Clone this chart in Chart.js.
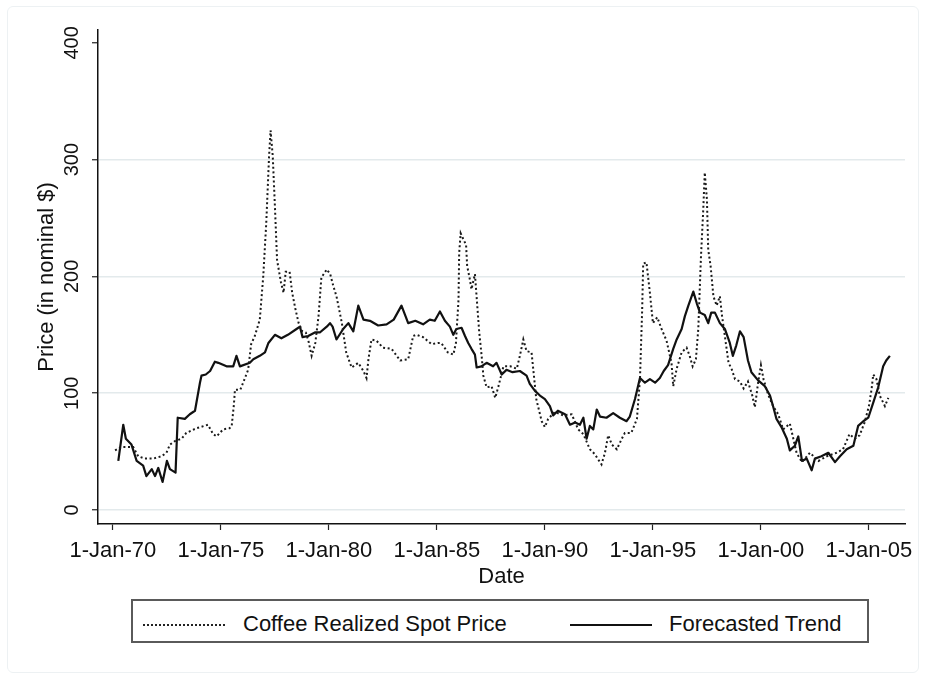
<!DOCTYPE html>
<html>
<head>
<meta charset="utf-8">
<script src="https://cdn.jsdelivr.net/npm/chart.js@4.4.1/dist/chart.umd.min.js"></script>
<style>
    body { margin: 0; background: #fff; }
    #wrap { position: relative; width: 927px; height: 675px; }
    #frame {
        position: absolute; left: 7px; top: 6px; width: 910px; height: 665px;
        border: 1px solid #edf1f3; border-radius: 6px; pointer-events: none;
    }
    #legend {
        position: absolute; left: 131px; top: 599px; width: 738px; height: 44px;
        box-sizing: border-box; border: 2px solid #5a5a5a; background: #fff;
        font-family: "Liberation Sans", Arial, sans-serif; font-size: 22px; color: #111;
    }
    #legend .sample { position: absolute; top: 23px; width: 82px; height: 0; }
    #legend .txt { position: absolute; top: 10px; line-height: 26px; white-space: nowrap; }
</style>
</head>
<body>
<div id="wrap">
    <canvas id="coffeeChart"></canvas>
    <div id="frame"></div>
    <div id="legend">
        <span class="sample" style="left:10px; border-top: 2px dotted #222;"></span>
        <span class="txt" style="left:110px;">Coffee Realized Spot Price</span>
        <span class="sample" style="left:437px; border-top: 2px solid #111;"></span>
        <span class="txt" style="left:536px;">Forecasted Trend</span>
    </div>
</div>
<script>
const xTickYears = [1970, 1975, 1980, 1985, 1990, 1995, 2000, 2005];
const xTickLabels = ['1-Jan-70', '1-Jan-75', '1-Jan-80', '1-Jan-85', '1-Jan-90', '1-Jan-95', '1-Jan-00', '1-Jan-05'];
const yTickValues = [0, 100, 200, 300, 400];

// Coffee Realized Spot Price (dotted)
const spotDates = [
    1970.1, 1970.4, 1970.94, 1971.17, 1971.48, 1971.87, 1972.25, 1972.48, 1972.64, 1972.87,
    1973.18, 1973.4, 1973.87, 1974.4, 1974.64, 1974.8, 1975.1, 1975.4, 1975.5, 1975.6,
    1975.65, 1975.9, 1976.03, 1976.26, 1976.4, 1976.57, 1976.8, 1976.96, 1977.1, 1977.23,
    1977.3, 1977.4, 1977.5, 1977.6, 1977.78, 1977.9, 1978.0, 1978.18, 1978.3, 1978.45,
    1978.6, 1978.77, 1978.93, 1979.05, 1979.2, 1979.37, 1979.52, 1979.65, 1979.9, 1980.06,
    1980.2, 1980.35, 1980.6, 1980.8, 1981.05, 1981.36, 1981.6, 1981.74, 1981.83, 1981.97,
    1982.2, 1982.5, 1982.9, 1983.3, 1983.67, 1983.9, 1984.06, 1984.36, 1984.75, 1985.06,
    1985.2, 1985.5, 1985.76, 1985.88, 1986.0, 1986.03, 1986.1, 1986.22, 1986.35, 1986.4,
    1986.53, 1986.6, 1986.76, 1986.84, 1986.96, 1987.07, 1987.15, 1987.3, 1987.53, 1987.7,
    1987.85, 1988.08, 1988.4, 1988.7, 1988.84, 1989.0, 1989.15, 1989.38, 1989.49, 1989.6,
    1989.85, 1990.0, 1990.15, 1990.46, 1990.85, 1991.24, 1991.54, 1991.78, 1992.08, 1992.3,
    1992.62, 1992.78, 1992.93, 1993.1, 1993.33, 1993.56, 1993.7, 1994.0, 1994.26, 1994.4,
    1994.5, 1994.55, 1994.7, 1994.86, 1995.0, 1995.2, 1995.4, 1995.63, 1995.86, 1995.94,
    1996.1, 1996.33, 1996.56, 1996.7, 1996.84, 1996.99, 1997.1, 1997.22, 1997.33, 1997.4,
    1997.5, 1997.56, 1997.67, 1997.8, 1997.95, 1998.1, 1998.2, 1998.33, 1998.5, 1998.64,
    1998.8, 1999.03, 1999.2, 1999.4, 1999.6, 1999.72, 1999.87, 2000.0, 2000.12, 2000.33,
    2000.56, 2000.8, 2001.03, 2001.34, 2001.5, 2001.65, 2001.9, 2002.27, 2002.66, 2003.05,
    2003.5, 2003.8, 2004.1, 2004.35, 2004.57, 2004.8, 2005.0, 2005.12, 2005.2, 2005.35,
    2005.5, 2005.74, 2005.9
];
const spotPrices = [
    51, 54, 54, 46, 44, 44, 46, 49, 56, 59,
    61, 66, 70, 73, 65, 63, 69, 70, 72, 90,
    103, 103, 109, 120, 142, 149, 163, 200, 246, 303,
    325, 303, 260, 214, 195, 186, 204, 204, 186, 172,
    160, 153, 152, 145, 132, 143, 166, 199, 206, 202,
    192, 183, 160, 135, 122, 126, 119, 113, 129, 146,
    145, 139, 138, 128, 129, 149, 150, 148, 142, 143,
    143, 135, 133, 143, 180, 220, 237, 232, 227, 209,
    197, 189, 202, 182, 152, 132, 115, 105, 106, 96,
    106, 123, 123, 121, 132, 146, 136, 135, 115, 95,
    76, 71, 78, 84, 81, 82, 69, 65, 52, 48,
    39, 49, 64, 56, 52, 61, 66, 66, 78, 112,
    170, 211, 212, 186, 160, 165, 155, 145, 126, 106,
    121, 135, 139, 132, 123, 129, 155, 215, 257, 289,
    266, 223, 209, 183, 175, 183, 166, 149, 126, 121,
    112, 110, 104, 110, 98, 88, 109, 124, 112, 99,
    89, 82, 69, 74, 61, 49, 41, 49, 42, 46,
    49, 52, 65, 61, 64, 75, 89, 103, 116, 112,
    98, 89, 96
];

// Forecasted Trend (solid)
const trendDates = [
    1970.25, 1970.48, 1970.6, 1970.86, 1971.1, 1971.4, 1971.55, 1971.8, 1971.95, 1972.1,
    1972.3, 1972.5, 1972.64, 1972.9, 1973.0, 1973.33, 1973.56, 1973.8, 1974.03, 1974.1,
    1974.3, 1974.5, 1974.72, 1974.88, 1975.26, 1975.57, 1975.72, 1975.88, 1976.34, 1976.5,
    1976.8, 1977.04, 1977.2, 1977.5, 1977.8, 1978.1, 1978.5, 1978.66, 1978.78, 1979.04,
    1979.35, 1979.58, 1979.9, 1980.05, 1980.17, 1980.35, 1980.66, 1980.9, 1981.13, 1981.36,
    1981.6, 1981.9, 1982.28, 1982.67, 1983.0, 1983.36, 1983.67, 1984.0, 1984.36, 1984.67,
    1984.9, 1985.14, 1985.37, 1985.6, 1985.76, 1985.9, 1986.14, 1986.3, 1986.45, 1986.6,
    1986.76, 1986.84, 1987.06, 1987.3, 1987.6, 1987.76, 1988.0, 1988.22, 1988.5, 1988.84,
    1989.15, 1989.3, 1989.54, 1989.77, 1990.0, 1990.23, 1990.38, 1990.6, 1990.93, 1991.16,
    1991.4, 1991.62, 1991.78, 1991.93, 1992.08, 1992.24, 1992.4, 1992.55, 1992.85, 1993.16,
    1993.47, 1993.78, 1993.93, 1994.17, 1994.4, 1994.63, 1994.86, 1995.1, 1995.32, 1995.5,
    1995.7, 1995.94, 1996.1, 1996.33, 1996.48, 1996.64, 1996.87, 1997.03, 1997.18, 1997.4,
    1997.56, 1997.7, 1997.87, 1998.1, 1998.33, 1998.56, 1998.7, 1998.86, 1999.03, 1999.2,
    1999.4, 1999.56, 1999.87, 2000.18, 2000.42, 2000.56, 2000.72, 2000.95, 2001.2, 2001.34,
    2001.57, 2001.73, 2001.9, 2002.12, 2002.35, 2002.5, 2002.8, 2003.12, 2003.43, 2003.66,
    2003.97, 2004.28, 2004.5, 2004.74, 2004.97, 2005.2, 2005.43, 2005.66, 2005.8, 2005.97
];
const trendPrices = [
    42, 73, 61, 56, 42, 38, 29, 35, 29, 36,
    24, 42, 35, 32, 79, 78, 82, 85, 109, 115,
    116, 119, 127, 126, 123, 123, 132, 123, 126, 129,
    132, 135, 143, 150, 147, 150, 155, 157, 148, 149,
    152, 152, 157, 160, 157, 146, 155, 160, 153, 175,
    163, 162, 158, 159, 163, 175, 160, 162, 159, 163,
    162, 170, 162, 157, 150, 155, 156, 149, 143, 138,
    133, 122, 123, 126, 123, 126, 116, 120, 118, 119,
    115, 108, 102, 98, 95, 89, 81, 85, 82, 73,
    75, 73, 79, 61, 72, 69, 86, 80, 79, 83,
    79, 76, 80, 95, 113, 109, 112, 109, 113, 119,
    124, 138, 146, 155, 166, 175, 187, 177, 169, 167,
    160, 169, 169, 160, 155, 143, 132, 141, 153, 148,
    128, 118, 111, 106, 98, 89, 78, 71, 61, 51,
    55, 63, 42, 44, 34, 44, 46, 49, 41, 46,
    52, 55, 72, 76, 79, 92, 105, 123, 128, 132
];

const FONT = '"Liberation Sans", Arial, sans-serif';

// y tick labels are drawn rotated, like the original
const yLabelPlugin = {
    id: 'yLabels',
    afterDraw(chart) {
        const ctx = chart.ctx;
        const scale = chart.scales.y;
        ctx.save();
        ctx.font = '20px ' + FONT;
        ctx.fillStyle = '#111';
        ctx.textAlign = 'center';
        ctx.textBaseline = 'middle';
        yTickValues.forEach(v => {
            ctx.save();
            ctx.translate(72, scale.getPixelForValue(v));
            ctx.rotate(-Math.PI / 2);
            ctx.fillText(String(v), 0, 0);
            ctx.restore();
        });
        ctx.restore();
    }
};

new Chart(document.getElementById('coffeeChart'), {
    type: 'line',
    data: {
        datasets: [
            {
                label: 'Coffee Realized Spot Price',
                data: spotDates.map((d, i) => ({ x: d, y: spotPrices[i] })),
                borderColor: '#1a1a1a',
                borderWidth: 2,
                borderDash: [2, 2.6],
                pointRadius: 0,
                tension: 0
            },
            {
                label: 'Forecasted Trend',
                data: trendDates.map((d, i) => ({ x: d, y: trendPrices[i] })),
                borderColor: '#111',
                borderWidth: 2.2,
                borderJoinStyle: 'round',
                pointRadius: 0,
                tension: 0
            }
        ]
    },
    options: {
        responsive: true,
        maintainAspectRatio: false,
        animation: false,
        layout: { padding: { top: 30, right: 22, bottom: 81, left: 0 } },
        plugins: {
            legend: { display: false },
            tooltip: { enabled: false }
        },
        scales: {
            x: {
                type: 'linear',
                min: 1969.31,
                max: 2006.67,
                afterBuildTicks: s => { s.ticks = xTickYears.map(v => ({ value: v })); },
                afterFit: s => { s.height = 70; },
                ticks: {
                    callback: (v, i) => xTickLabels[i],
                    font: { family: FONT, size: 22 },
                    color: '#111',
                    padding: 8,
                    minRotation: 0,
                    maxRotation: 0,
                    autoSkip: false
                },
                grid: { drawOnChartArea: false, tickLength: 6, tickColor: '#222', tickWidth: 1.2 },
                border: { color: '#111', width: 1.5 },
                title: {
                    display: true,
                    text: 'Date',
                    font: { family: FONT, size: 22 },
                    color: '#111',
                    padding: { top: 0, bottom: 4 }
                }
            },
            y: {
                type: 'linear',
                min: -12,
                max: 411,
                afterBuildTicks: s => { s.ticks = yTickValues.map(v => ({ value: v })); },
                afterFit: s => { s.width = 98; },
                ticks: { display: false },
                grid: {
                    color: c => (c.tick && c.tick.value === 400) ? 'rgba(0,0,0,0)' : '#e3eaec',
                    lineWidth: 1.5,
                    tickLength: 6,
                    tickColor: '#222',
                    tickWidth: 1.2
                },
                border: { color: '#111', width: 1.5 },
                title: {
                    display: true,
                    text: 'Price (in nominal $)',
                    font: { family: FONT, size: 22 },
                    color: '#111',
                    padding: { top: 34, bottom: 0 }
                }
            }
        }
    },
    plugins: [yLabelPlugin]
});
</script>
</body>
</html>
